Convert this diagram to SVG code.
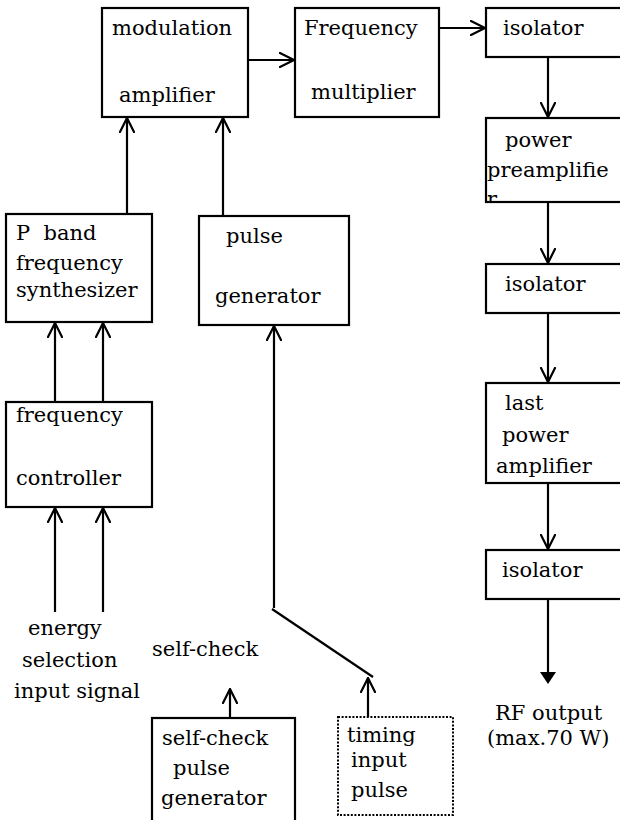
<svg xmlns="http://www.w3.org/2000/svg" width="620" height="820" viewBox="0 0 620 820">
<style>
.box{fill:#fff;stroke:#000;stroke-width:2.2}
.dot{fill:#fff;stroke:#000;stroke-width:2;stroke-dasharray:2 1.6}
text{font-family:"DejaVu Serif","Liberation Serif",serif;font-size:21px;letter-spacing:0px;fill:#000}
.ln{fill:none;stroke:#000;stroke-width:2.2}
</style>
<defs>
<marker id="v" markerUnits="userSpaceOnUse" viewBox="0 0 16 16" markerWidth="16" markerHeight="16" refX="15" refY="8" orient="auto">
<path d="M0,0.5 L15,8 L0,15.5" fill="none" stroke="#000" stroke-width="2.2"/>
</marker>
<clipPath id="ppclip"><rect x="486" y="118" width="160" height="84"/></clipPath>
</defs>
<rect width="620" height="820" fill="#fff"/>

<g id="connectors">
<line class="ln" x1="248" y1="60" x2="294" y2="60" marker-end="url(#v)"/>
<line class="ln" x1="439" y1="28" x2="485" y2="28" marker-end="url(#v)"/>
<line class="ln" x1="548" y1="57" x2="548" y2="117" marker-end="url(#v)"/>
<line class="ln" x1="548" y1="202" x2="548" y2="263" marker-end="url(#v)"/>
<line class="ln" x1="548" y1="313" x2="548" y2="382" marker-end="url(#v)"/>
<line class="ln" x1="548" y1="483" x2="548" y2="549" marker-end="url(#v)"/>
<line class="ln" x1="548" y1="599" x2="548" y2="673"/>
<polygon points="540,672 556,672 548,684" fill="#000"/>
<line class="ln" x1="127" y1="214" x2="127" y2="118" marker-end="url(#v)"/>
<line class="ln" x1="223" y1="216" x2="223" y2="118" marker-end="url(#v)"/>
<line class="ln" x1="55" y1="402" x2="55" y2="323" marker-end="url(#v)"/>
<line class="ln" x1="103" y1="402" x2="103" y2="323" marker-end="url(#v)"/>
<line class="ln" x1="55" y1="612" x2="55" y2="508" marker-end="url(#v)"/>
<line class="ln" x1="103" y1="612" x2="103" y2="508" marker-end="url(#v)"/>
<line class="ln" x1="274" y1="608" x2="274" y2="326" marker-end="url(#v)"/>
<line class="ln" x1="272" y1="609" x2="373" y2="677"/>
<line class="ln" x1="368" y1="717" x2="368" y2="678" marker-end="url(#v)"/>
<line class="ln" x1="230" y1="718" x2="230" y2="689" marker-end="url(#v)"/>
</g>

<g id="modulation-amplifier">
<rect class="box" x="102" y="8" width="146" height="109"/>
<text x="112" y="35">modulation</text>
<text x="119" y="102">amplifier</text>
</g>
<g id="frequency-multiplier">
<rect class="box" x="295" y="8" width="144" height="109"/>
<text x="304" y="35">Frequency</text>
<text x="311" y="99">multiplier</text>
</g>
<g id="isolator-1">
<rect class="box" x="486" y="8" width="160" height="49"/>
<text x="503" y="35">isolator</text>
</g>
<g id="power-preamplifier">
<rect class="box" x="486" y="118" width="160" height="84"/>
<text x="505" y="147">power</text>
<text x="487" y="177">preamplifie</text>
<text x="487" y="206" clip-path="url(#ppclip)">r</text>
</g>
<g id="isolator-2">
<rect class="box" x="486" y="264" width="160" height="49"/>
<text x="505" y="291">isolator</text>
</g>
<g id="last-power-amplifier">
<rect class="box" x="486" y="383" width="160" height="100"/>
<text x="505" y="410">last</text>
<text x="502" y="442">power</text>
<text x="496" y="473">amplifier</text>
</g>
<g id="isolator-3">
<rect class="box" x="486" y="550" width="160" height="49"/>
<text x="502" y="577">isolator</text>
</g>
<g id="rf-output">
<text x="495" y="720">RF output</text>
<text x="487" y="745">(max.70 W)</text>
</g>
<g id="p-band-synthesizer">
<rect class="box" x="6" y="214" width="146" height="108"/>
<text x="16" y="240" xml:space="preserve">P  band</text>
<text x="16" y="270">frequency</text>
<text x="16" y="297">synthesizer</text>
</g>
<g id="pulse-generator">
<rect class="box" x="199" y="216" width="150" height="109"/>
<text x="226" y="243">pulse</text>
<text x="215" y="303">generator</text>
</g>
<g id="frequency-controller">
<rect class="box" x="6" y="402" width="146" height="105"/>
<text x="16" y="422">frequency</text>
<text x="16" y="485">controller</text>
</g>
<g id="energy-selection">
<text x="28" y="635">energy</text>
<text x="22" y="667">selection</text>
<text x="14" y="698">input signal</text>
</g>
<g id="self-check-label">
<text x="152" y="656">self-check</text>
</g>
<g id="self-check-pulse-generator">
<rect class="box" x="152" y="718" width="143" height="110"/>
<text x="162" y="745">self-check</text>
<text x="173" y="775">pulse</text>
<text x="161" y="805">generator</text>
</g>
<g id="timing-input-pulse">
<rect class="dot" x="338" y="717" width="115" height="98"/>
<text x="347" y="742">timing</text>
<text x="351" y="767">input</text>
<text x="351" y="797">pulse</text>
</g>
</svg>
